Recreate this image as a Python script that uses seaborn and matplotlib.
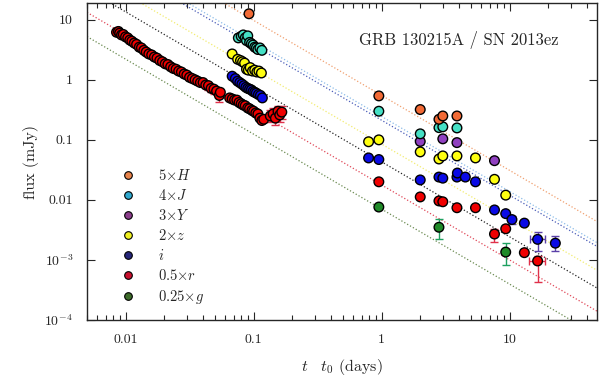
import numpy as np
import pandas as pd
import matplotlib
matplotlib.use("Agg")
import matplotlib.pyplot as plt
import seaborn as sns
from matplotlib.lines import Line2D

# ---- data (scaled fluxes, mJy) ----
t_H = [0.092, 0.95, 2.0, 2.8, 3.0, 3.87]
f_H = [12.6, 0.54, 0.32, 0.22, 0.25, 0.25]

t_J = [0.076, 0.080, 0.083, 0.086, 0.088, 0.090, 0.093, 0.096, 0.099, 0.102, 0.105, 0.108, 0.112, 0.116,
       0.95, 2.0, 2.8, 3.0, 3.87]
f_J = [5.0, 5.3, 5.6, 5.0, 4.5, 5.4, 4.2, 4.0, 3.8, 3.5, 3.4, 3.2, 3.4, 3.1,
       0.30, 0.126, 0.16, 0.165, 0.158]

t_Y = [2.0, 3.0, 3.87, 7.6]
f_Y = [0.094, 0.104, 0.09, 0.045]

t_z = [0.068, 0.075, 0.079, 0.082, 0.085, 0.088, 0.091, 0.094, 0.098, 0.102, 0.106, 0.110, 0.115,
       0.79, 0.95, 2.0, 2.8, 3.0, 3.87, 5.4, 7.6, 9.3]
f_z = [2.7, 2.2, 2.1, 2.0, 1.9, 1.5, 1.45, 1.6, 1.4, 1.45, 1.35, 1.4, 1.3,
       0.093, 0.1, 0.063, 0.048, 0.054, 0.054, 0.05, 0.022, 0.012]

t_i = [0.068, 0.072, 0.075, 0.078, 0.081, 0.084, 0.087, 0.090, 0.093, 0.096, 0.099, 0.102, 0.105, 0.109,
       0.113, 0.117,
       0.79, 0.95, 2.0, 2.8, 3.0, 3.87, 3.9, 4.5, 5.4, 7.6, 9.3, 10.4, 13.0, 16.5, 22.7]
f_i = [1.15, 1.05, 0.95, 0.9, 0.85, 0.80, 0.75, 0.72, 0.70, 0.68, 0.64, 0.62, 0.60, 0.57,
       0.55, 0.50,
       0.05, 0.047, 0.0215, 0.024, 0.023, 0.024, 0.028, 0.024, 0.02, 0.0068, 0.0059, 0.0047, 0.0041,
       0.0022, 0.0019]

t_r = [0.0085, 0.0088, 0.0090, 0.0093, 0.0096, 0.0100, 0.0104, 0.0108, 0.0112, 0.0117, 0.0122, 0.0128,
       0.0133, 0.0139, 0.0145, 0.0152, 0.0160, 0.0168, 0.0176, 0.0185, 0.0194, 0.0204, 0.0214, 0.0225,
       0.0236, 0.0248, 0.0260, 0.0273, 0.0287, 0.0301, 0.0316, 0.0332, 0.0349, 0.0366, 0.0384, 0.0403,
       0.0423, 0.0444, 0.0466, 0.0490, 0.0514, 0.0540, 0.0550,
       0.065, 0.068, 0.071, 0.074, 0.077, 0.080, 0.083, 0.086, 0.090, 0.093, 0.097, 0.100, 0.104, 0.108,
       0.112, 0.116, 0.120,
       0.135, 0.142, 0.148, 0.155, 0.160, 0.166,
       0.95, 2.0, 2.8, 3.0, 3.87, 5.4, 7.6, 9.3, 13.0, 16.5]
f_r = [6.2, 6.4, 6.0, 5.6, 5.7, 5.2, 5.0, 4.6, 4.4, 4.1, 3.9, 3.5,
       3.4, 3.1, 2.9, 2.7, 2.6, 2.4, 2.3, 2.1, 2.0, 1.85, 1.8, 1.65,
       1.55, 1.5, 1.4, 1.35, 1.25, 1.2, 1.1, 1.05, 1.0, 0.95, 0.9, 0.9,
       0.82, 0.8, 0.72, 0.7, 0.65, 0.55, 0.62,
       0.50, 0.48, 0.46, 0.46, 0.42, 0.40, 0.38, 0.37, 0.34, 0.33, 0.31, 0.30, 0.28, 0.27,
       0.23, 0.21, 0.22,
       0.25, 0.27, 0.23, 0.30, 0.26, 0.29,
       0.02, 0.0112, 0.0096, 0.0093, 0.0074, 0.0074, 0.0027, 0.0033, 0.00132, 0.00096]

t_g = [0.95, 2.8, 9.3]
f_g = [0.0076, 0.0035, 0.00135]

# error bars (only points where they show)
eb_r_t = [0.0444, 0.0466, 0.0490, 0.0540, 0.135, 0.142, 0.148, 0.155, 0.160, 0.166, 7.6, 16.5]
eb_r_f = [0.8, 0.72, 0.7, 0.55, 0.25, 0.27, 0.23, 0.30, 0.26, 0.29, 0.0027, 0.00096]
eb_r_lo = [0.12, 0.10, 0.12, 0.12, 0.05, 0.06, 0.05, 0.07, 0.06, 0.07, 0.0007, 0.00053]
eb_r_hi = [0.05, 0.05, 0.05, 0.08, 0.06, 0.07, 0.05, 0.07, 0.06, 0.07, 0.0006, 0.0002]
eb_r_x = [0, 0, 0, 0, 0, 0, 0, 0, 0, 0, 0, 2.3]

eb_g_t = [2.8, 9.3]
eb_g_f = [0.0035, 0.00135]
eb_g_lo = [0.0013, 0.00052]
eb_g_hi = [0.0013, 0.00055]

eb_i_t = [10.4, 16.5, 22.7]
eb_i_f = [0.0047, 0.0022, 0.0019]
eb_i_lo = [0.0007, 0.0008, 0.0005]
eb_i_hi = [0.0007, 0.0007, 0.0006]
eb_i_x = [0, 2.2, 0]

# power-law fits: amplitude at t = 1 d, common decay index
bands = ["H", "J", "Y", "z", "i", "r", "g"]
labels = [r"$5{\times}H$", r"$4{\times}J$", r"$3{\times}Y$", r"$2{\times}z$", r"$i$",
          r"$0.5{\times}r$", r"$0.25{\times}g$"]
fit_amp = [0.55, 0.245, 0.212, 0.085, 0.043, 0.0177, 0.0070]
fit_alpha = 1.25

marker_colors = {"H": "#f26a35", "J": "#45e0c5", "Y": "#9040c0", "z": "#ffff10",
                 "i": "#0a0ae6", "r": "#f00000", "g": "#208a28"}
legend_colors = ["#e8834a", "#2fa8cf", "#8b3d8b", "#f0f020", "#26267a", "#c8102e", "#3d6b2a"]
line_colors = ["#f0a070", "#8cbce8", "#4a5cb8", "#f2ec70", "#222222", "#e04858", "#6a8a50"]

# ---- style ----
sns.set_style("ticks")
plt.rcParams["font.family"] = "serif"
plt.rcParams["font.serif"] = ["cmr10"]
plt.rcParams["mathtext.fontset"] = "cm"
plt.rcParams["axes.unicode_minus"] = False

fig, ax = plt.subplots(figsize=(6, 3.85), dpi=100)
fig.subplots_adjust(left=0.145, right=0.995, top=0.992, bottom=0.169)

xlim = (0.005, 48)
tt = np.logspace(np.log10(xlim[0]), np.log10(xlim[1]), 200)
for amp, c in zip(fit_amp, line_colors):
    ax.plot(tt, amp * tt ** (-fit_alpha), ls=":", lw=0.9, color=c, zorder=1)

ax.errorbar(eb_r_t, eb_r_f, yerr=[eb_r_lo, eb_r_hi], xerr=eb_r_x, fmt="none",
            ecolor="#e0304a", elinewidth=1, capsize=3, zorder=2)
ax.errorbar(eb_g_t, eb_g_f, yerr=[eb_g_lo, eb_g_hi], fmt="none",
            ecolor="#1ea060", elinewidth=1, capsize=3, zorder=2)
ax.errorbar(eb_i_t, eb_i_f, yerr=[eb_i_lo, eb_i_hi], xerr=eb_i_x, fmt="none",
            ecolor="#5a40a8", elinewidth=1, capsize=3, zorder=2)

series = {"g": (t_g, f_g), "r": (t_r, f_r), "i": (t_i, f_i), "z": (t_z, f_z),
          "Y": (t_Y, f_Y), "J": (t_J, f_J), "H": (t_H, f_H)}
df = pd.concat([pd.DataFrame({"t": t, "flux": f, "band": b}) for b, (t, f) in series.items()],
               ignore_index=True)
sns.scatterplot(data=df, x="t", y="flux", hue="band", palette=marker_colors, s=48,
                edgecolor="black", linewidth=1.0, legend=False, ax=ax, zorder=3)

ax.set_xscale("log")
ax.set_yscale("log")
ax.set_xlim(*xlim)
ax.set_ylim(1e-4, 19)

ax.set_xticks([0.01, 0.1, 1, 10])
ax.set_xticklabels(["0.01", "0.1", "1", "10"])
ax.set_yticks([1e-4, 1e-3, 0.01, 0.1, 1, 10])
ax.set_yticklabels([r"$10^{-4}$", r"$10^{-3}$", "0.01", "0.1", "1", "10"])
ax.yaxis.set_minor_locator(matplotlib.ticker.NullLocator())
ax.tick_params(which="both", direction="in", top=True, right=True, labelsize=10)
ax.tick_params(which="major", length=6, width=0.8)
ax.tick_params(which="minor", length=3.5, width=0.8)
ax.tick_params(axis="x", pad=10)
ax.tick_params(axis="y", pad=10)
for s in ax.spines.values():
    s.set_linewidth(1.0)

ax.set_xlabel(r"$t\quad t_0$ (days)", fontsize=11.5, labelpad=8)
ax.set_ylabel("flux (mJy)", fontsize=11.5, labelpad=4)

ax.text(0.73, 0.885, "GRB 130215A / SN 2013ez", transform=ax.transAxes,
        ha="center", va="center", fontsize=12)

handles = [Line2D([], [], marker="o", ls="none", markersize=5.5, markerfacecolor=c,
                  markeredgecolor="black", markeredgewidth=0.8) for c in legend_colors]
ax.legend(handles, labels, loc="upper left", bbox_to_anchor=(0.024, 0.526), frameon=False,
          fontsize=10.5, labelspacing=0.35, handletextpad=1.0, borderaxespad=0.6)

fig.savefig("out.png", dpi=100)
